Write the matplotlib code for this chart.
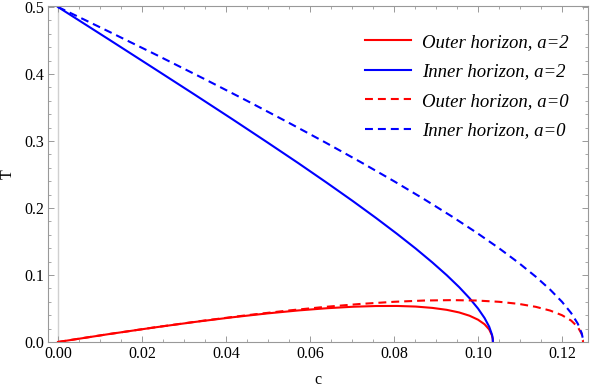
import numpy as np
import matplotlib
matplotlib.use("Agg")
import matplotlib.pyplot as plt
from matplotlib.ticker import MultipleLocator

# values (a=0 and a=2 curves)
c_a0 = [0.0, 0.00617, 0.01219, 0.02375, 0.03469, 0.045, 0.05469, 0.06375, 0.07219,
        0.08, 0.08719, 0.09375, 0.09969, 0.105, 0.10969, 0.11375, 0.11719, 0.12,
        0.12219, 0.12375, 0.12469, 0.12492, 0.125]
T_in_a0 = [0.5, 0.4814, 0.4631, 0.4275, 0.3931, 0.36, 0.3281, 0.2975, 0.2681,
           0.24, 0.2131, 0.1875, 0.1631, 0.14, 0.1181, 0.0975, 0.0781, 0.06,
           0.0431, 0.0275, 0.0131, 0.0064, 0.0]
T_out_a0 = [0.0, 0.0061, 0.0119, 0.0225, 0.0319, 0.04, 0.0469, 0.0525, 0.0569,
            0.06, 0.0619, 0.0625, 0.0619, 0.06, 0.0569, 0.0525, 0.0469, 0.04,
            0.0319, 0.0225, 0.0119, 0.0061, 0.0]

c_a2 = [0.0, 0.01191, 0.02272, 0.03257, 0.04155, 0.04974, 0.05721, 0.064, 0.07016,
        0.07572, 0.08072, 0.08518, 0.08912, 0.09256, 0.09551, 0.09799, 0.1,
        0.10156, 0.10267, 0.10333, 0.1035, 0.10355]
T_in_a2 = [0.5, 0.4524, 0.4089, 0.3691, 0.3324, 0.2984, 0.267, 0.2377, 0.2105,
           0.1851, 0.1614, 0.1394, 0.1188, 0.0997, 0.0819, 0.0653, 0.05,
           0.0358, 0.0228, 0.0109, 0.0053, 0.0]
T_out_a2 = [0.0, 0.0116, 0.0215, 0.0299, 0.0369, 0.0426, 0.0471, 0.0504, 0.0526,
            0.0537, 0.0538, 0.0529, 0.0509, 0.048, 0.0441, 0.0392, 0.0333,
            0.0265, 0.0187, 0.0098, 0.005, 0.0]

labels = ["Outer horizon, a=2", "Inner horizon, a=2",
          "Outer horizon, a=0", "Inner horizon, a=0"]

plt.rcParams['font.family'] = ['Liberation Serif', 'DejaVu Serif']

fig = plt.figure(figsize=(5.91, 3.92), dpi=100)
ax = fig.add_axes([48/591, 1-342/392, 540/591, 336/392])

dash = (0, (3.8, 2.4))
ax.plot(c_a2, T_out_a2, color='red', lw=1.5, label=labels[0])
ax.plot(c_a2, T_in_a2, color='blue', lw=1.5, label=labels[1])
ax.plot(c_a0, T_out_a0, color='red', lw=1.5, ls=dash, label=labels[2])
ax.plot(c_a0, T_in_a0, color='blue', lw=1.5, ls=dash, label=labels[3])

# light axis line at c=0
ax.axvline(0, color='#d0d0d0', lw=1, zorder=0)

ax.set_xlim(-0.00238, 0.12619)
ax.set_ylim(0, 0.5015)

ax.xaxis.set_major_locator(MultipleLocator(0.02))
ax.xaxis.set_minor_locator(MultipleLocator(0.005))
ax.yaxis.set_major_locator(MultipleLocator(0.1))
ax.yaxis.set_minor_locator(MultipleLocator(0.02))
ax.xaxis.set_major_formatter(plt.FuncFormatter(lambda v, p: "%.2f" % v))
ax.yaxis.set_major_formatter(plt.FuncFormatter(lambda v, p: "%.1f" % v))

for s in ax.spines.values():
    s.set_color('#999999')
    s.set_linewidth(0.8)
ax.tick_params(which='both', direction='in', top=True, right=True,
               color='#999999', labelsize=11.5, labelcolor='black')
ax.tick_params(which='major', length=4.5, width=0.7, pad=3)
ax.tick_params(which='minor', length=2.5, width=0.6)

ax.set_xlabel("c", fontsize=11.5, labelpad=7)
ax.set_ylabel("T", fontsize=11.5, labelpad=6)

leg = ax.legend(loc='upper left', bbox_to_anchor=(0.587, 0.918), frameon=False,
                prop={'style': 'italic', 'size': 13.5}, handlelength=2.45,
                handletextpad=0.59, labelspacing=0.66, borderpad=0, borderaxespad=0)

fig.savefig("out.png", dpi=100)
